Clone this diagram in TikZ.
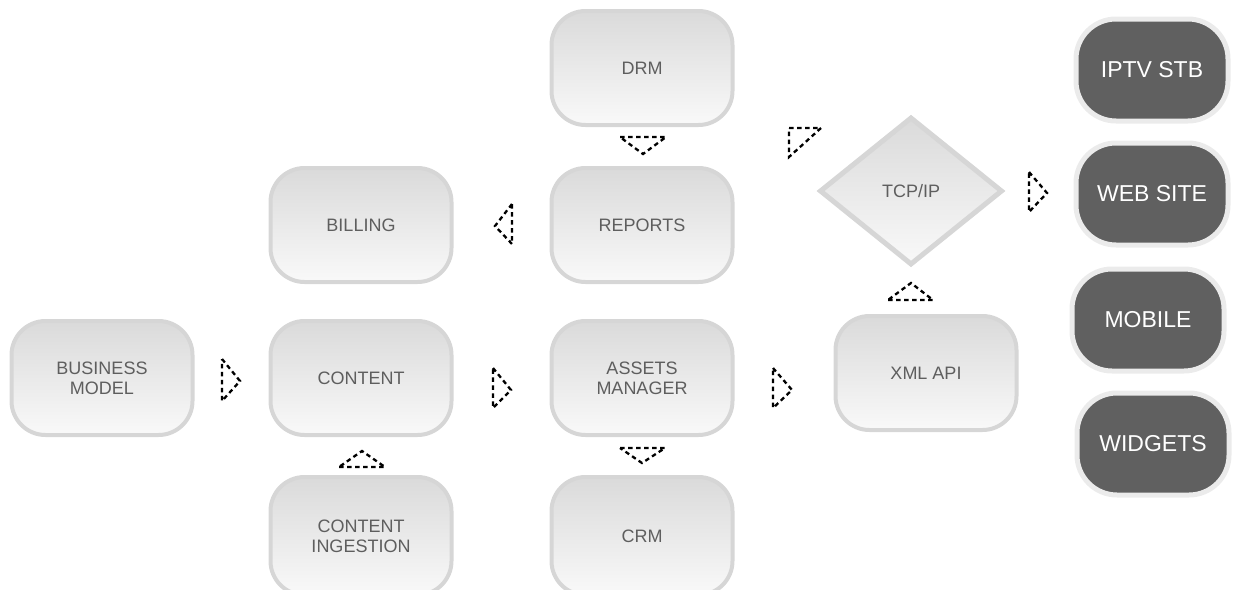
\documentclass[tikz,border=0pt]{standalone}
\usepackage{fontspec}
\setmainfont{Liberation Sans}
\usetikzlibrary{shapes.geometric}
\definecolor{lborder}{HTML}{D6D6D6}
\definecolor{ltop}{HTML}{DADADA}
\definecolor{lbot}{HTML}{F9F9F9}
\definecolor{ltext}{HTML}{5E5E5E}
\definecolor{dfill}{HTML}{606060}
\definecolor{dborder}{HTML}{EBEBEB}
\tikzset{
  lbox/.style={rectangle, rounded corners=34pt, minimum width=181pt, minimum height=114pt,
    inner sep=0pt, draw=lborder, line width=4pt, top color=ltop, bottom color=lbot,
    text=ltext, align=center, font=\fontsize{18}{20}\selectfont},
  dbox/.style={rectangle, rounded corners=40pt, minimum width=152pt, minimum height=102pt,
    inner sep=0pt, draw=dborder, line width=5pt, fill=dfill,
    text=white, align=center, font=\fontsize{23}{26}\selectfont},
  ddiam/.style={diamond, minimum width=183pt, minimum height=148pt, inner sep=0pt,
    draw=lborder, line width=5pt, top color=ltop, bottom color=lbot,
    text=ltext, font=\fontsize{18}{20}\selectfont},
  tri/.style={draw=black, line width=2.3pt, dash pattern=on 4.5pt off 3.5pt, line join=miter}
}
\begin{document}
\begin{tikzpicture}[x=1pt,y=-1pt]
\useasboundingbox (0,0) rectangle (1234,589);
% light boxes
\node[lbox] (bm) at (102,378) {BUSINESS\\MODEL};
\node[lbox] (content) at (361,378) {CONTENT};
\node[lbox] (assets) at (642,378) {ASSETS\\MANAGER};
\node[lbox] (xml) at (926,373) {XML API};
\node[lbox] (billing) at (361,225) {BILLING};
\node[lbox] (reports) at (642,225) {REPORTS};
\node[lbox] (drm) at (642,68) {DRM};
\node[lbox, minimum height=118pt] (ingest) at (361,536) {CONTENT\\INGESTION};
\node[lbox, minimum height=118pt] (crm) at (642,536) {CRM};
% diamond
\node[ddiam] (tcp) at (911,191) {TCP/IP};
% dark boxes
\node[dbox] (iptv) at (1152,70) {IPTV STB};
\node[dbox] (web) at (1152,194) {WEB SITE};
\node[dbox] (mobile) at (1148,320) {MOBILE};
\node[dbox] (widgets) at (1153,444) {WIDGETS};
% dashed triangle markers
\draw[tri] (222,359) -- (240,381) -- (222,401) -- cycle;
\draw[tri] (493,368) -- (511,390) -- (493,408) -- cycle;
\draw[tri] (773,368) -- (792,390) -- (773,408) -- cycle;
\draw[tri] (512,204) -- (495,226) -- (512,244) -- cycle;
\draw[tri] (620,137) -- (666,137) -- (643,154) -- cycle;
\draw[tri] (339,467) -- (385,467) -- (362,451) -- cycle;
\draw[tri] (620,448) -- (665,448) -- (642,463) -- cycle;
\draw[tri] (888,300) -- (933,300) -- (911,283) -- cycle;
\draw[tri] (1029,172) -- (1047,193) -- (1029,212) -- cycle;
\draw[tri] (789,128) -- (821,128) -- (789,157) -- cycle;
\end{tikzpicture}
\end{document}
